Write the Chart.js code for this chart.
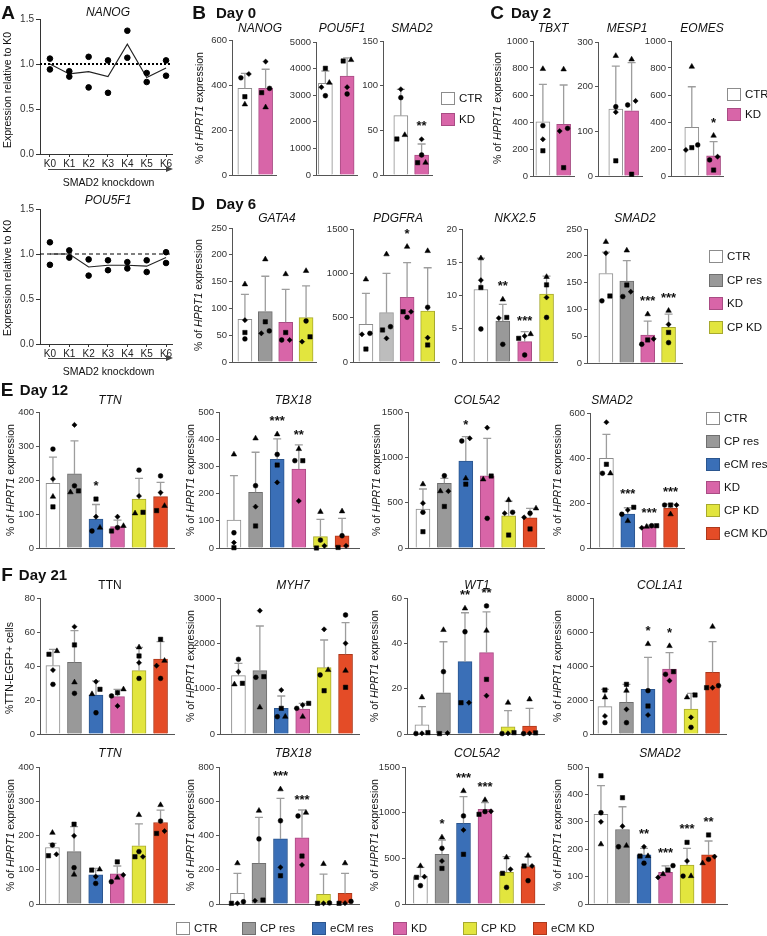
<!DOCTYPE html>
<html>
<head>
<meta charset="utf-8">
<script src="https://cdn.jsdelivr.net/npm/chart.js@4.4.1/dist/chart.umd.min.js"></script>
<style>
body { margin: 0; background: #fff; }
#fig { position: relative; width: 767px; height: 936px; overflow: hidden; background: #fff;
       font-family: 'Liberation Sans', Arial, Helvetica, sans-serif; color: #111; }
#fig canvas { position: absolute; }
.t { position: absolute; white-space: nowrap; transform: translate(-50%, -50%); line-height: 1; }
.title { font-size: 12px; font-style: italic; }
.plain { font-size: 12px; }
.ylab { font-size: 10.5px; transform: translate(-50%, -50%) rotate(-90deg); }
.letter { font-size: 19px; font-weight: bold; }
.day { font-size: 15px; font-weight: bold; }
.note { font-size: 10.5px; }
.box { position: absolute; width: 12px; height: 11px; border: 1px solid; }
.lgt { position: absolute; font-size: 11.5px; line-height: 1; transform: translateY(-50%); white-space: nowrap; }
</style>
</head>
<body>
<div id="fig"></div>
<script>
// SMAD2 knockdown figure - Chart.js rebuild

// ---------- data ----------
// groups
const G2 = ['CTR', 'KD'];
const G4 = ['CTR', 'CP res', 'KD', 'CP KD'];
const G4E = ['CTR', 'eCM res', 'KD', 'eCM KD'];
const G6 = ['CTR', 'CP res', 'eCM res', 'KD', 'CP KD', 'eCM KD'];

// Panel A: relative to K0, two replicates + mean line
const A_LABELS = ['K0', 'K1', 'K2', 'K3', 'K4', 'K5', 'K6'];
const A_REF_LEVEL = 1.0;
const A_NANOG_REP1 = [1.06, 0.92, 1.08, 1.04, 1.37, 0.90, 1.04];
const A_NANOG_REP2 = [0.94, 0.86, 0.74, 0.68, 1.07, 0.80, 0.87];
const A_NANOG_MEAN = [1.00, 0.89, 0.915, 0.86, 1.22, 0.85, 0.955];
const A_POU5F1_REP1 = [1.13, 1.04, 0.94, 0.93, 0.91, 0.93, 1.02];
const A_POU5F1_REP2 = [0.88, 0.96, 0.76, 0.82, 0.84, 0.80, 0.90];
const A_POU5F1_MEAN = [1.00, 1.00, 0.855, 0.875, 0.875, 0.865, 0.96];

// bar panels: mean, SD (upper), replicate points [circle, square, triangle, diamond], significance
const B_NANOG_MEAN = [385, 385];
const B_NANOG_SD = [67, 85];
const B_NANOG_PTS = [[432, 348, 314, 449], [385, 366, 301, 504]];

const B_POU5F1_MEAN = [3447, 3722];
const B_POU5F1_SD = [463, 684];
const B_POU5F1_PTS = [[2980, 4011, 3470, 3300], [3045, 4286, 4323, 3300]];

const B_SMAD2_MEAN = [66.4, 22.4];
const B_SMAD2_SD = [29.5, 12.3];
const B_SMAD2_PTS = [[86.6, 40.3, 44.8, 96], [22.4, 13.8, 13.8, 40]];
const B_SMAD2_SIG = ['', '**'];

const C_TBXT_MEAN = [402, 383];
const C_TBXT_SD = [277, 291];
const C_TBXT_PTS = [[373, 187, 793, 272], [353, 62, 790, 333]];

const C_MESP1_MEAN = [150, 146];
const C_MESP1_SD = [96, 108];
const C_MESP1_PTS = [[155, 34, 269, 143], [159, 4, 261, 168]];

const C_EOMES_MEAN = [361, 150];
const C_EOMES_SD = [300, 104];
const C_EOMES_PTS = [[230, 210, 810, 193], [119, 44, 299, 143]];
const C_EOMES_SIG = ['', '*'];

const D_GATA4_MEAN = [79.6, 94, 74, 82.7];
const D_GATA4_SD = [46.4, 66, 61.6, 59.3];
const D_GATA4_PTS = [[43, 55, 145, 78], [58, 75, 191.6, 53.5], [41, 55, 164, 41], [76.5, 47, 170, 38]];

const D_PDGFRA_MEAN = [425, 556, 729, 575];
const D_PDGFRA_SD = [350, 444, 391, 488];
const D_PDGFRA_PTS = [[323, 146, 932, 312], [398, 361, 1215, 267], [504, 567, 1300, 567], [617, 192, 1252, 274]];
const D_PDGFRA_SIG = ['', '', '*', ''];

const D_NKX25_MEAN = [10.9, 6.17, 3.06, 10.2];
const D_NKX25_SD = [4.7, 2.5, 1.5, 2.7];
const D_NKX25_PTS = [[4.96, 11.2, 15.6, 12.3], [2.66, 6.7, 9.4, 6.6], [1.05, 3.56, 4.2, 3.9], [6.7, 11.6, 12.8, 9.7]];
const D_NKX25_SIG = ['', '**', '***', ''];

const D_SMAD2_MEAN = [167, 153, 52, 66.6];
const D_SMAD2_SD = [40, 38, 26, 24.4];
const D_SMAD2_PTS = [[116, 125, 226, 205], [124, 145.5, 210, 133], [35, 43, 91, 45], [38, 57, 97.6, 72]];
const D_SMAD2_SIG = ['', '', '***', '***'];

const E_TTN_MEAN = [190, 218, 85, 63, 144, 151];
const E_TTN_SD = [77, 97, 43, 19, 61, 42];
const E_TTN_PTS = [[291, 121, 151, 203], [183, 168, 164, 362], [50, 144, 60, 92], [60, 50, 65, 92], [229, 105, 102, 153], [212, 110, 124, 163]];
const E_TTN_SIG = ['', '', '*', '', '', ''];

const E_TBX18_MEAN = [103, 205, 326, 290, 42, 45];
const E_TBX18_SD = [163, 147, 75, 89, 63, 64];
const E_TBX18_PTS = [[56, 1, 344, 20], [229, 81, 403, 152], [344, 305, 418, 241], [321, 321, 364, 173], [29, 0, 133, 8], [45, 2, 135, 8]];
const E_TBX18_SIG = ['', '', '***', '**', '', ''];

const E_COL5A2_MEAN = [430, 714, 960, 797, 356, 334];
const E_COL5A2_SD = [221, 54, 268, 413, 162, 103];
const E_COL5A2_PTS = [[394, 180, 704, 494], [797, 458, 627, 627], [1180, 704, 768, 1210], [327, 794, 757, 1327], [394, 143, 529, 383], [383, 210, 437, 338]];
const E_COL5A2_SIG = ['', '', '*', '', '', ''];

const E_SMAD2_MEAN = [399, 151, 95, 177];
const E_SMAD2_SD = [106, 28, 7, 18];
const E_SMAD2_PTS = [[332, 372, 332, 559], [150, 181, 120, 169], [99, 99, 95, 90], [191, 191, 150, 191]];
const E_SMAD2_SIG = ['', '***', '***', '***'];

const F_EGFP_MEAN = [40.2, 42.2, 22.9, 22, 37.3, 44.1];
const F_EGFP_SD = [9.6, 18.6, 8.3, 4.3, 13.7, 10.2];
const F_EGFP_PTS = [[29.2, 46.9, 48.8, 37.6], [23.9, 52.4, 30.4, 63.1], [12.5, 26.3, 23.5, 30.8], [22.4, 24.3, 26.3, 16.5], [32.7, 45.9, 51, 41.9], [32.7, 55.7, 43.1, 40.2]];

const F_MYH7_MEAN = [1287, 1397, 566, 551, 1463, 1758];
const F_MYH7_SD = [272, 985, 272, 125, 611, 698];
const F_MYH7_PTS = [[1647, 1118, 1096, 1374], [1250, 1265, 588, 2721], [382, 566, 382, 970], [566, 676, 382, 640], [1302, 955, 1412, 2309], [2625, 1030, 1397, 2000]];

const F_WT1_MEAN = [4.0, 18.2, 31.9, 35.9, 3.2, 3.5];
const F_WT1_SD = [8.1, 22.5, 21.6, 18, 7.1, 7.8];
const F_WT1_PTS = [[0.2, 0.6, 16.2, 0.3], [27.5, 0.2, 45.9, 0.4], [45.1, 13.8, 55.4, 13.8], [56.5, 24.1, 45.6, 16.9], [0.2, 0.6, 13.8, 0.3], [0.2, 0.5, 15.3, 0.3]];
const F_WT1_SIG = ['', '', '**', '**', '', ''];

const F_COL1A1_MEAN = [1608, 1863, 2627, 3824, 1471, 3627];
const F_COL1A1_SD = [1019, 1059, 1883, 960, 921, 1804];
const F_COL1A1_PTS = [[667, 2588, 2157, 1059], [667, 2922, 2549, 1451], [2549, 1647, 5294, 1118], [3510, 3667, 5176, 3137], [392, 2294, 2157, 980], [2843, 2725, 6314, 2725]];
const F_COL1A1_SIG = ['', '', '*', '*', '', ''];

const F_TTN_MEAN = [165, 153, 85, 88, 170, 238];
const F_TTN_SD = [12, 73, 19, 23, 64, 36];
const F_TTN_PTS = [[172, 141, 208, 145], [106, 233, 86, 199], [60, 99, 101, 80], [65, 123, 77, 85], [153, 138, 260, 138], [242, 206, 289, 213]];

const F_TBX18_MEAN = [62, 238, 380, 387, 57, 62];
const F_TBX18_SD = [117, 268, 237, 162, 118, 117];
const F_TBX18_PTS = [[13, 4, 238, 4], [380, 23, 545, 19], [486, 165, 670, 214], [514, 280, 533, 228], [6, 4, 234, 4], [15, 4, 238, 5]];
const F_TBX18_SIG = ['', '', '***', '***', '', ''];

const F_COL5A2_MEAN = [299, 544, 883, 1037, 347, 409];
const F_COL5A2_SD = [102, 157, 292, 73, 171, 109];
const F_COL5A2_PTS = [[201, 292, 416, 299], [610, 390, 730, 471], [964, 544, 1237, 810], [1011, 982, 1139, 1015], [182, 336, 511, 380], [255, 416, 529, 416]];
const F_COL5A2_SIG = ['', '*', '***', '***', '', ''];

const F_SMAD2_MEAN = [327, 272, 179, 116, 142, 179];
const F_SMAD2_SD = [105, 83, 24, 23, 61, 51];
const F_SMAD2_PTS = [[333, 468, 218, 300], [209, 388, 213, 284], [149, 175, 175, 209], [140, 124, 109, 97], [102, 225, 102, 157], [163, 252, 149, 173]];
const F_SMAD2_SIG = ['', '', '**', '***', '***', '**'];

// ---------- styles ----------
const FONT = "'Liberation Sans', Arial, Helvetica, sans-serif";
const AXIS = '#555';
const ERR = '#9d9d9d';
const COLORS = {
  'CTR':     { fill: '#ffffff', line: '#8c8c8c' },
  'CP res':  { fill: '#999999', line: '#6f6f6f' },
  'eCM res': { fill: '#3a6fb7', line: '#2b568f' },
  'KD':      { fill: '#d865a8', line: '#a94c84' },
  'CP KD':   { fill: '#e2e53e', line: '#a7a92e' },
  'eCM KD':  { fill: '#e44c27', line: '#ad391c' }
};
const LIGHT_GREY = { fill: '#bdbdbd', line: '#9a9a9a' };
const REPS = [
  { style: 'circle', r: 2.4 },
  { style: 'rect', r: 3.1 },
  { style: 'triangle', r: 3.2 },
  { style: 'rectRot', r: 2.6 }
];
const YW = 34, PT = 16, PB = 8, PR = 4;
const ylHPRT = '% of <i>HPRT1</i> expression';

// ---------- layout ----------
const PANELS = [
  { title: 'NANOG', groups: G2, mean: B_NANOG_MEAN, sd: B_NANOG_SD, pts: B_NANOG_PTS, max: 600, step: 200, axisX: 232, end: 277, yTop: 40, y0: 175, c0: 245, pitch: 21, tx: 260, ty: 28 },
  { title: 'POU5F1', groups: G2, mean: B_POU5F1_MEAN, sd: B_POU5F1_SD, pts: B_POU5F1_PTS, max: 5000, step: 1000, axisX: 316, end: 358, yTop: 42, y0: 175, c0: 325.5, pitch: 22, tx: 342, ty: 28 },
  { title: 'SMAD2', groups: G2, mean: B_SMAD2_MEAN, sd: B_SMAD2_SD, pts: B_SMAD2_PTS, sig: B_SMAD2_SIG, max: 150, step: 50, axisX: 383, end: 433, yTop: 41, y0: 175, c0: 401, pitch: 21, tx: 412, ty: 28 },
  { title: 'TBXT', groups: G2, mean: C_TBXT_MEAN, sd: C_TBXT_SD, pts: C_TBXT_PTS, max: 1000, step: 200, axisX: 533, end: 575, yTop: 41, y0: 176, c0: 543, pitch: 21, tx: 553, ty: 28 },
  { title: 'MESP1', groups: G2, mean: C_MESP1_MEAN, sd: C_MESP1_SD, pts: C_MESP1_PTS, max: 300, step: 100, axisX: 598, end: 643, yTop: 42, y0: 176, c0: 616, pitch: 16, tx: 627, ty: 28 },
  { title: 'EOMES', groups: G2, mean: C_EOMES_MEAN, sd: C_EOMES_SD, pts: C_EOMES_PTS, sig: C_EOMES_SIG, max: 1000, step: 200, axisX: 671, end: 724, yTop: 41, y0: 176, c0: 692, pitch: 22, tx: 702, ty: 28 },
  { title: 'GATA4', groups: G4, mean: D_GATA4_MEAN, sd: D_GATA4_SD, pts: D_GATA4_PTS, max: 250, step: 50, axisX: 232, end: 317, yTop: 228, y0: 362, c0: 245, pitch: 20.5, tx: 277, ty: 218 },
  { title: 'PDGFRA', groups: G4, mean: D_PDGFRA_MEAN, sd: D_PDGFRA_SD, pts: D_PDGFRA_PTS, sig: D_PDGFRA_SIG, max: 1500, step: 500, axisX: 353, end: 440, yTop: 229, y0: 362, c0: 366, pitch: 20.7, tx: 398, ty: 218, shade: { 'CP res': LIGHT_GREY } },
  { title: 'NKX2.5', groups: G4, mean: D_NKX25_MEAN, sd: D_NKX25_SD, pts: D_NKX25_PTS, sig: D_NKX25_SIG, max: 20, step: 5, axisX: 462, end: 558, yTop: 229, y0: 362, c0: 481, pitch: 22, tx: 515, ty: 218 },
  { title: 'SMAD2', groups: G4, mean: D_SMAD2_MEAN, sd: D_SMAD2_SD, pts: D_SMAD2_PTS, sig: D_SMAD2_SIG, max: 250, step: 50, axisX: 587, end: 683, yTop: 229, y0: 363, c0: 606, pitch: 21, tx: 635, ty: 218 },
  { title: 'TTN', groups: G6, mean: E_TTN_MEAN, sd: E_TTN_SD, pts: E_TTN_PTS, sig: E_TTN_SIG, max: 400, step: 100, axisX: 39, end: 175, yTop: 412, y0: 548, c0: 53, pitch: 21.6, tx: 110, ty: 400 },
  { title: 'TBX18', groups: G6, mean: E_TBX18_MEAN, sd: E_TBX18_SD, pts: E_TBX18_PTS, sig: E_TBX18_SIG, max: 500, step: 100, axisX: 219, end: 360, yTop: 412, y0: 548, c0: 234, pitch: 21.7, tx: 293, ty: 400 },
  { title: 'COL5A2', groups: G6, mean: E_COL5A2_MEAN, sd: E_COL5A2_SD, pts: E_COL5A2_PTS, sig: E_COL5A2_SIG, max: 1500, step: 500, axisX: 408, end: 545, yTop: 412, y0: 548, c0: 423, pitch: 21.5, tx: 477, ty: 400 },
  { title: 'SMAD2', groups: G4E, mean: E_SMAD2_MEAN, sd: E_SMAD2_SD, pts: E_SMAD2_PTS, sig: E_SMAD2_SIG, max: 600, step: 200, axisX: 590, end: 685, yTop: 413, y0: 548, c0: 606.5, pitch: 21.5, tx: 612, ty: 400 },
  { title: 'TTN', plain: true, groups: G6, mean: F_EGFP_MEAN, sd: F_EGFP_SD, pts: F_EGFP_PTS, max: 80, step: 20, axisX: 40, end: 175, yTop: 598, y0: 734, c0: 53, pitch: 21.6, tx: 110, ty: 585 },
  { title: 'MYH7', groups: G6, mean: F_MYH7_MEAN, sd: F_MYH7_SD, pts: F_MYH7_PTS, max: 3000, step: 1000, axisX: 220, end: 360, yTop: 598, y0: 734, c0: 238.5, pitch: 21.5, tx: 293, ty: 585 },
  { title: 'WT1', groups: G6, mean: F_WT1_MEAN, sd: F_WT1_SD, pts: F_WT1_PTS, sig: F_WT1_SIG, max: 60, step: 20, axisX: 407, end: 545, yTop: 598, y0: 734, c0: 422, pitch: 21.6, tx: 477, ty: 585 },
  { title: 'COL1A1', groups: G6, mean: F_COL1A1_MEAN, sd: F_COL1A1_SD, pts: F_COL1A1_PTS, sig: F_COL1A1_SIG, max: 8000, step: 2000, axisX: 593, end: 727, yTop: 598, y0: 734, c0: 605, pitch: 21.6, tx: 660, ty: 585 },
  { title: 'TTN', groups: G6, mean: F_TTN_MEAN, sd: F_TTN_SD, pts: F_TTN_PTS, max: 400, step: 100, axisX: 39, end: 175, yTop: 767, y0: 904, c0: 52.5, pitch: 21.7, tx: 110, ty: 753 },
  { title: 'TBX18', groups: G6, mean: F_TBX18_MEAN, sd: F_TBX18_SD, pts: F_TBX18_PTS, sig: F_TBX18_SIG, max: 800, step: 200, axisX: 219, end: 360, yTop: 767, y0: 904, c0: 237.5, pitch: 21.6, tx: 293, ty: 753 },
  { title: 'COL5A2', groups: G6, mean: F_COL5A2_MEAN, sd: F_COL5A2_SD, pts: F_COL5A2_PTS, sig: F_COL5A2_SIG, max: 1500, step: 500, axisX: 405, end: 545, yTop: 767, y0: 904, c0: 420.5, pitch: 21.6, tx: 477, ty: 753 },
  { title: 'SMAD2', groups: G6, mean: F_SMAD2_MEAN, sd: F_SMAD2_SD, pts: F_SMAD2_PTS, sig: F_SMAD2_SIG, max: 500, step: 100, axisX: 588, end: 728, yTop: 767, y0: 904, c0: 601, pitch: 21.6, tx: 660, ty: 753 }
];

const LINE_PANELS = [
  { title: 'NANOG', rep1: A_NANOG_REP1, rep2: A_NANOG_REP2, mean: A_NANOG_MEAN, axisX: 40, end: 173, yTop: 19, y0: 154, c0: 50, pitch: 19.5, tx: 108, ty: 12, dash: [2, 2], dashW: 2, arrowY: 169, noteY: 182 },
  { title: 'POU5F1', rep1: A_POU5F1_REP1, rep2: A_POU5F1_REP2, mean: A_POU5F1_MEAN, axisX: 40, end: 173, yTop: 209, y0: 344, c0: 50, pitch: 19.5, tx: 108, ty: 200, dash: [4, 3], dashW: 1.2, arrowY: 358, noteY: 371 }
];

const YLABELS = [
  ['Expression relative to K0', 7, 90], ['Expression relative to K0', 7, 278],
  [ylHPRT, 199, 108], [ylHPRT, 497, 108], [ylHPRT, 198, 295],
  [ylHPRT, 10, 480], [ylHPRT, 190, 480], [ylHPRT, 376, 480], [ylHPRT, 557, 480],
  ['%TTN-EGFP+ cells', 9, 668], [ylHPRT, 190, 666], [ylHPRT, 374, 666], [ylHPRT, 557, 666],
  [ylHPRT, 10, 835], [ylHPRT, 190, 835], [ylHPRT, 374, 835], [ylHPRT, 557, 835]
];
const LETTERS = [['A', 8, 12], ['B', 199, 12], ['C', 497, 12], ['D', 198, 203], ['E', 7, 389], ['F', 7, 574]];
const DAYS = [['Day 0', 236, 12], ['Day 2', 531, 12], ['Day 6', 236, 203], ['Day 12', 44, 389], ['Day 21', 43, 574]];
const LEGENDS = [
  { groups: G2, x: 441, ys: [92, 113] },
  { groups: G2, x: 727, ys: [88, 108] },
  { groups: G4, x: 709, ys: [250, 274, 297, 321] },
  { groups: G6, x: 706, ys: [412, 435, 458, 481, 504, 527] }
];
const BOTTOM_LEGEND_X = [176, 242, 312, 393, 463, 533];

// ---------- drawing ----------
const fig = document.getElementById('fig');

function txt(html, x, y, cls) {
  const d = document.createElement('div');
  d.className = 't ' + cls;
  d.innerHTML = html;
  d.style.left = x + 'px';
  d.style.top = y + 'px';
  fig.appendChild(d);
}

function legendItem(group, x, y) {
  const b = document.createElement('div');
  b.className = 'box';
  b.style.left = x + 'px';
  b.style.top = y + 'px';
  b.style.background = COLORS[group].fill;
  b.style.borderColor = COLORS[group].line;
  fig.appendChild(b);
  const t = document.createElement('div');
  t.className = 'lgt';
  t.textContent = group;
  t.style.left = (x + 18) + 'px';
  t.style.top = (y + 6.5) + 'px';
  fig.appendChild(t);
}

// spread replicate points that sit at about the same height (GraphPad style)
function jitter(pts, pxPerUnit, pitch) {
  return pts.map(vals => {
    const idx = vals.map((v, r) => ({ r, py: v * pxPerUnit })).sort((a, b) => a.py - b.py);
    const off = vals.map(() => 0);
    let g = [idx[0]];
    const flush = () => {
      const k = g.length;
      const step = k === 2 ? 8 : k === 3 ? 6 : 5;
      g.forEach((o, j) => { off[o.r] = (j - (k - 1) / 2) * step / pitch; });
    };
    for (let k = 1; k < idx.length; k++) {
      if (idx[k].py - g[g.length - 1].py < 5) g.push(idx[k]);
      else { flush(); g = [idx[k]]; }
    }
    flush();
    return off;
  });
}

const errorPlugin = {
  id: 'errorBars',
  afterDatasetDraw(chart, args) {
    if (args.index !== 0) return;
    const p = chart.canvas._panel, ctx = chart.ctx, ys = chart.scales.y;
    ctx.save();
    ctx.strokeStyle = ERR;
    ctx.lineWidth = 1.3;
    args.meta.data.forEach((el, i) => {
      const yc = ys.getPixelForValue(p.mean[i] + p.sd[i]);
      ctx.beginPath();
      ctx.moveTo(el.x, el.y);
      ctx.lineTo(el.x, yc);
      ctx.moveTo(el.x - 4, yc);
      ctx.lineTo(el.x + 4, yc);
      ctx.stroke();
    });
    ctx.restore();
  },
  afterDraw(chart) {
    const p = chart.canvas._panel;
    if (!p.sig) return;
    const ctx = chart.ctx, ys = chart.scales.y, xs = chart.scales.x;
    ctx.save();
    ctx.font = 'bold 13px ' + FONT;
    ctx.fillStyle = '#111';
    ctx.textAlign = 'center';
    ctx.textBaseline = 'alphabetic';
    p.sig.forEach((s, i) => {
      if (!s) return;
      const tops = p.pts[i].map(v => ys.getPixelForValue(v) - 3);
      tops.push(ys.getPixelForValue(p.mean[i] + p.sd[i]));
      ctx.fillText(s, xs.getPixelForValue(i), Math.min(...tops) - 6);
    });
    ctx.restore();
  }
};

function yScale(max, step, fmt, fontSize) {
  return {
    min: 0, max: max,
    ticks: { stepSize: step, font: { family: FONT, size: fontSize }, color: '#333', padding: 2, callback: fmt },
    grid: { drawOnChartArea: false, color: AXIS, tickLength: 3 },
    border: { color: AXIS, width: 1 },
    afterFit: s => { s.width = YW; }
  };
}

function barPanel(p) {
  const W = p.end - p.axisX, H = p.y0 - p.yTop;
  const cv = document.createElement('canvas');
  cv.width = YW + W + PR;
  cv.height = PT + H + PB;
  cv.style.left = (p.axisX - YW) + 'px';
  cv.style.top = (p.yTop - PT) + 'px';
  fig.appendChild(cv);
  cv._panel = p;

  const col = g => (p.shade && p.shade[g]) || COLORS[g];
  const jit = jitter(p.pts, H / p.max, p.pitch);
  const datasets = [{
    type: 'bar', order: 10,
    data: p.mean.map((v, i) => ({ x: i, y: v })),
    backgroundColor: p.groups.map(g => col(g).fill),
    borderColor: p.groups.map(g => col(g).line),
    borderWidth: 1,
    barThickness: 14
  }];
  REPS.forEach((rep, r) => datasets.push({
    type: 'scatter', order: 1, clip: false,
    data: p.pts.map((b, i) => ({ x: i + jit[i][r], y: b[r] })),
    pointStyle: rep.style, pointRadius: rep.r,
    pointBackgroundColor: '#000', pointBorderColor: '#000', pointBorderWidth: 0.5
  }));

  new Chart(cv, {
    type: 'bar',
    data: { datasets },
    options: {
      responsive: false, animation: false, events: [],
      layout: { padding: { top: PT, bottom: PB, left: 0, right: PR } },
      plugins: { legend: { display: false }, tooltip: { enabled: false } },
      scales: {
        x: {
          type: 'linear', offset: false,
          min: -(p.c0 - p.axisX) / p.pitch, max: (p.end - p.c0) / p.pitch,
          grid: { display: false }, ticks: { display: false },
          border: { color: AXIS, width: 1 },
          afterFit: s => { s.height = 0; }
        },
        y: yScale(p.max, p.step, v => String(v), 9.5)
      }
    },
    plugins: [errorPlugin]
  });

  txt(p.title, p.tx, p.ty, p.plain ? 'plain' : 'title');
}

function linePanel(p) {
  const W = p.end - p.axisX, H = p.y0 - p.yTop, XH = 16;
  const cv = document.createElement('canvas');
  cv.width = YW + W + PR;
  cv.height = 8 + H + XH + 2;
  cv.style.left = (p.axisX - YW) + 'px';
  cv.style.top = (p.yTop - 8) + 'px';
  fig.appendChild(cv);

  const xmin = -(p.c0 - p.axisX) / p.pitch, xmax = (p.end - p.c0) / p.pitch;
  const dot = rep => ({
    type: 'scatter', order: 1, clip: false,
    data: rep.map((v, i) => ({ x: i, y: v })),
    pointRadius: 2.8, pointBackgroundColor: '#000', pointBorderColor: '#000'
  });
  new Chart(cv, {
    type: 'scatter',
    data: {
      datasets: [
        dot(p.rep1), dot(p.rep2),
        { type: 'line', order: 2, data: p.mean.map((v, i) => ({ x: i, y: v })), borderColor: '#222', borderWidth: 1.1, pointRadius: 0, tension: 0 },
        { type: 'line', order: 3, data: [{ x: xmin, y: A_REF_LEVEL }, { x: xmax, y: A_REF_LEVEL }], borderColor: '#000', borderWidth: p.dashW, borderDash: p.dash, pointRadius: 0 }
      ]
    },
    options: {
      responsive: false, animation: false, events: [],
      layout: { padding: { top: 8, bottom: 2, left: 0, right: PR } },
      plugins: { legend: { display: false }, tooltip: { enabled: false } },
      scales: {
        x: {
          type: 'linear', min: xmin, max: xmax,
          ticks: { stepSize: 1, includeBounds: false, autoSkip: false, maxRotation: 0, padding: 1,
                   font: { family: FONT, size: 10 }, color: '#222', callback: v => A_LABELS[v] || '' },
          grid: { drawOnChartArea: false, color: '#333', tickLength: 3 },
          border: { color: '#333', width: 1 },
          afterFit: s => { s.height = XH; }
        },
        y: Object.assign(yScale(1.5, 0.5, v => v.toFixed(1), 10), {
          grid: { drawOnChartArea: false, color: '#333', tickLength: 4 },
          border: { color: '#333', width: 1 }
        })
      }
    }
  });

  txt(p.title, p.tx, p.ty, 'title');
  // arrow under the K axis
  const ln = document.createElement('div');
  ln.style.cssText = `position:absolute;left:${p.axisX + 8}px;top:${p.arrowY}px;width:${W - 14}px;height:0;border-top:1px solid #444;`;
  fig.appendChild(ln);
  const hd = document.createElement('div');
  hd.style.cssText = `position:absolute;left:${p.end - 7}px;top:${p.arrowY - 3}px;width:0;height:0;border-top:3.5px solid transparent;border-bottom:3.5px solid transparent;border-left:7px solid #444;`;
  fig.appendChild(hd);
  txt('SMAD2 knockdown', (p.axisX + p.end) / 2 + 2, p.noteY, 'note');
}

LINE_PANELS.forEach(linePanel);
PANELS.forEach(barPanel);

YLABELS.forEach(([t, x, y]) => txt(t, x, y, 'ylab'));
LETTERS.forEach(([t, x, y]) => txt(t, x, y, 'letter'));
DAYS.forEach(([t, x, y]) => txt(t, x, y, 'day'));
LEGENDS.forEach(l => l.groups.forEach((g, i) => legendItem(g, l.x, l.ys[i])));
G6.forEach((g, i) => legendItem(g, BOTTOM_LEGEND_X[i], 922));
</script>
</body>
</html>
